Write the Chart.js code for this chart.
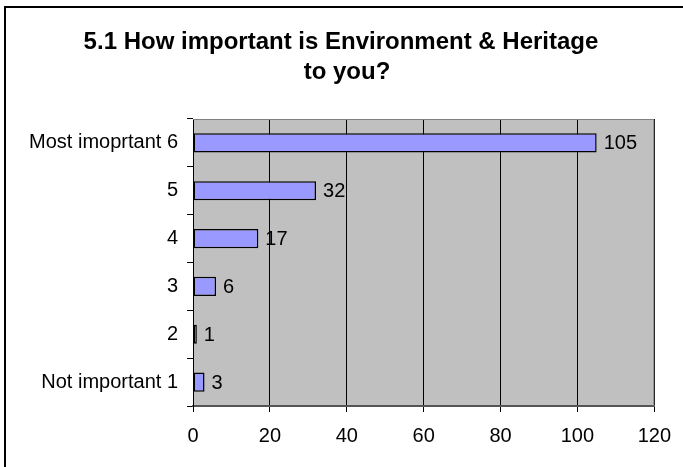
<!DOCTYPE html>
<html>
<head>
<meta charset="utf-8">
<script src="https://cdn.jsdelivr.net/npm/chart.js@4/dist/chart.umd.min.js"></script>
<style>
  html, body { margin: 0; padding: 0; background: #fff; }
  #wrap { width: 683px; height: 467px; position: relative; }
</style>
</head>
<body>
<div id="wrap"><canvas id="myChart" width="683" height="467"></canvas></div>
<script>
'use strict';

//data
var categories = ['Most imoprtant 6', '5', '4', '3', '2', 'Not important 1'];
var responses = [105, 32, 17, 6, 1, 3];
var xTicks = [0, 20, 40, 60, 80, 100, 120];
var titleLines = ['5.1 How important is Environment & Heritage', 'to you?'];

var fontFamily = '"Liberation Sans", Arial, sans-serif';

//frame + grey plot background + title + value labels
var framePlugin = {
  id: 'frame',
  beforeDraw: function (chart) {
    var ctx = chart.ctx;
    var a = chart.chartArea;
    ctx.save();
    ctx.fillStyle = '#c0c0c0';
    ctx.fillRect(a.left, a.top, a.right - a.left, a.bottom - a.top);
    ctx.strokeStyle = '#000';
    ctx.lineWidth = 2;
    ctx.beginPath();
    ctx.moveTo(5, 470);
    ctx.lineTo(5, 7);
    ctx.lineTo(690, 7);
    ctx.stroke();
    //title
    ctx.fillStyle = '#000';
    ctx.font = 'bold 24px ' + fontFamily;
    ctx.textAlign = 'center';
    ctx.textBaseline = 'middle';
    ctx.fillText(titleLines[0], 341, 42);
    ctx.fillText(titleLines[1], 347, 72);
    ctx.restore();
  },
  afterDatasetsDraw: function (chart) {
    var ctx = chart.ctx;
    var a = chart.chartArea;
    ctx.save();
    //plot border
    ctx.strokeStyle = '#808080';
    ctx.lineWidth = 1;
    ctx.beginPath();
    ctx.moveTo(a.left, a.top + 0.5);
    ctx.lineTo(a.right - 0.5, a.top + 0.5);
    ctx.lineTo(a.right - 0.5, a.bottom);
    ctx.stroke();
    //value labels
    var meta = chart.getDatasetMeta(0);
    ctx.fillStyle = '#000';
    ctx.font = '20px ' + fontFamily;
    ctx.textAlign = 'left';
    ctx.textBaseline = 'middle';
    meta.data.forEach(function (bar, i) {
      ctx.fillText(String(responses[i]), bar.x + 7, bar.y + 1);
    });
    ctx.restore();
  }
};

var ctx = document.getElementById('myChart').getContext('2d');
//eslint-disable-next-line no-undef, no-unused-vars
var chart = new Chart(ctx, {
  type: 'bar',
  data: {
    labels: categories,
    datasets: [{
      data: responses,
      backgroundColor: '#9999ff',
      borderColor: '#000',
      borderWidth: 1.5,
      borderSkipped: false,
      categoryPercentage: 0.8,
      barPercentage: 0.5
    }]
  },
  options: {
    indexAxis: 'y',
    responsive: false,
    animation: false,
    layout: { padding: { left: 6, right: 24, top: 119, bottom: 7 } },
    plugins: {
      legend: { display: false },
      tooltip: { enabled: false },
      title: { display: false }
    },
    scales: {
      x: {
        min: 0,
        max: 120,
        afterBuildTicks: function (axis) {
          axis.ticks = xTicks.map(function (v) { return { value: v }; });
        },
        grid: {
          color: '#000',
          lineWidth: 1,
          drawTicks: true,
          tickLength: 6,
          tickColor: '#000'
        },
        border: { display: true, color: '#555', width: 2 },
        ticks: {
          color: '#000',
          padding: 12,
          font: { family: fontFamily, size: 20 }
        }
      },
      y: {
        offset: true,
        afterFit: function (axis) {
          axis.width = 187;
        },
        grid: {
          display: true,
          drawOnChartArea: false,
          offset: true,
          tickLength: 6,
          tickColor: '#000'
        },
        border: { display: true, color: '#000', width: 1 },
        ticks: {
          color: '#000',
          padding: 9,
          font: { family: fontFamily, size: 20 }
        }
      }
    }
  },
  plugins: [framePlugin]
});
</script>
</body>
</html>
